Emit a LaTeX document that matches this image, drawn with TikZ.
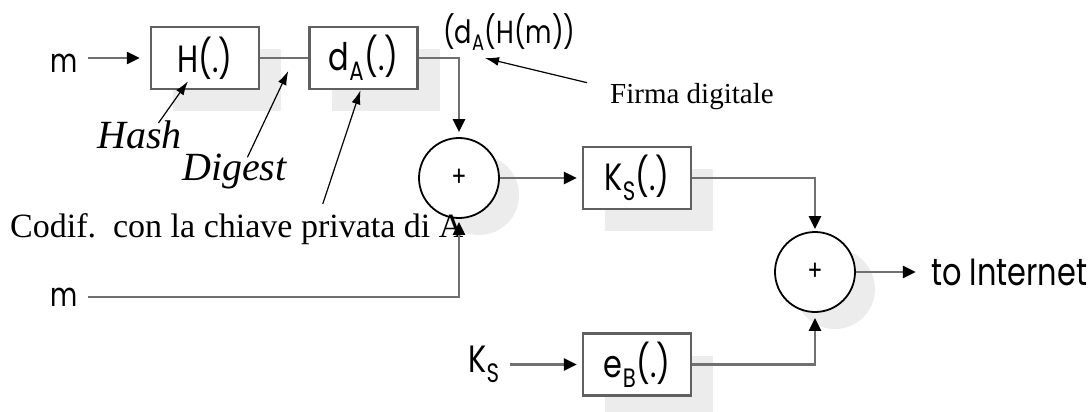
\documentclass[tikz,border=0pt]{standalone}
\usepackage{fontspec}
\setmainfont{Liberation Serif}
\newfontfamily\diafont{Poppins}[FakeStretch=0.8]
\usetikzlibrary{positioning,arrows.meta,shadows}
\definecolor{wiregray}{RGB}{112,112,112}
\definecolor{boxgray}{RGB}{96,96,96}
\definecolor{shade}{RGB}{236,236,236}

\begin{document}
\begin{tikzpicture}[
    node distance=0.4cm,
    every node/.style={font=\diafont\fontsize{38pt}{40pt}\selectfont},
    box/.style={
        draw=boxgray,
        line width=2.5pt,
        fill=white,
        minimum width=108pt,
        minimum height=62pt,
        inner sep=0pt,
        drop shadow={shadow xshift=22pt, shadow yshift=-22pt, fill=shade, opacity=1}
    },
    adder/.style={
        circle,
        draw=black,
        line width=1.8pt,
        fill=white,
        minimum size=80pt,
        inner sep=0pt,
        font=\diafont\fontsize{28pt}{30pt}\selectfont,
        drop shadow={shadow xshift=20pt, shadow yshift=-17pt, fill=shade, opacity=1}
    },
    lbl/.style={inner xsep=10pt, inner ysep=0pt},
    msg/.style={lbl, font=\diafont\fontsize{33pt}{36pt}\selectfont},
    note/.style={anchor=base west, inner sep=0pt},
    wire/.style={draw=wiregray, line width=2.5pt},
    flow/.style={wire, -{Triangle[length=13pt, width=12pt, color=black]}, shorten >=5pt},
    pointer/.style={draw=black, line width=1.2pt, -{Latex[length=14pt, width=9pt]}}
]

\useasboundingbox (0pt,0pt) rectangle (1088pt,-412pt);

% blocks
\node[box] (hbox) at (205pt,-58pt) {H(.)};
\node[box, right=48pt of hbox] (dbox) {d\textsubscript{A}(.)};
\node[adder] (add1) at (459pt,-178pt) {+};
\node[box, right=82pt of add1] (ksbox) {K\textsubscript{S}(.)};
\node[box, below=122pt of ksbox] (ebbox) {e\textsubscript{B}(.)};
\node[adder] (add2) at (815pt,-272pt) {+};

% inputs and output
\node[msg] (mtop) at (64pt,-63pt) {m};
\node[msg] (mbot) at (64pt,-297pt) {m};
\node[lbl, left=72pt of ebbox] (kslbl) {K\textsubscript{S}};
\node[lbl, right=65pt of add2] (inet) {to Internet};
\node[note, font=\diafont\fontsize{32pt}{34pt}\selectfont] (sig) at (443pt,-44pt) {(d\textsubscript{A}(H(m))};

% remarks
\node[note, font=\rmfamily\itshape\fontsize{40pt}{44pt}\selectfont] (hashlbl) at (97pt,-148pt) {Hash};
\node[note, font=\rmfamily\itshape\fontsize{40pt}{44pt}\selectfont] (diglbl) at (182pt,-180pt) {Digest};
\node[note, font=\rmfamily\fontsize{34pt}{38pt}\selectfont] (codlbl) at (10pt,-237pt) {Codif.\ \ con la chiave privata di A};
\node[note, font=\rmfamily\fontsize{29pt}{32pt}\selectfont] (firmalbl) at (610pt,-103pt) {Firma digitale};

% connectors
\draw[flow, shorten >=10pt] (mtop.east |- hbox.west) -- (hbox.west);
\draw[wire] (hbox) -- (dbox);
\draw[flow] (dbox.east) -| (add1.north);
\draw[flow, shorten >=3pt] (mbot.east) -| (add1.south);
\draw[flow] (add1) -- (ksbox);
\draw[flow, shorten >=2pt] (ksbox.east) -| (add2.north);
\draw[flow] (kslbl) -- (ebbox);
\draw[flow] (ebbox.east) -| (add2.south);
\draw[flow] (add2) -- (inet);

% pointers
\draw[pointer] ([xshift=19pt,yshift=-3pt]hashlbl.north) -- ([xshift=-17pt,yshift=9pt]hbox.south);
\draw[pointer] ([xshift=13pt,yshift=-4pt]diglbl.north) -- ([xshift=-20pt,yshift=-13pt]dbox.west);
\draw[pointer] ([xshift=86pt,yshift=9pt]codlbl.north) -- ([xshift=-3pt]dbox.south);
\draw[pointer] ([xshift=-23pt]firmalbl.north west) -- ([xshift=42pt,yshift=-7pt]sig.south west);

\end{tikzpicture}
\end{document}
